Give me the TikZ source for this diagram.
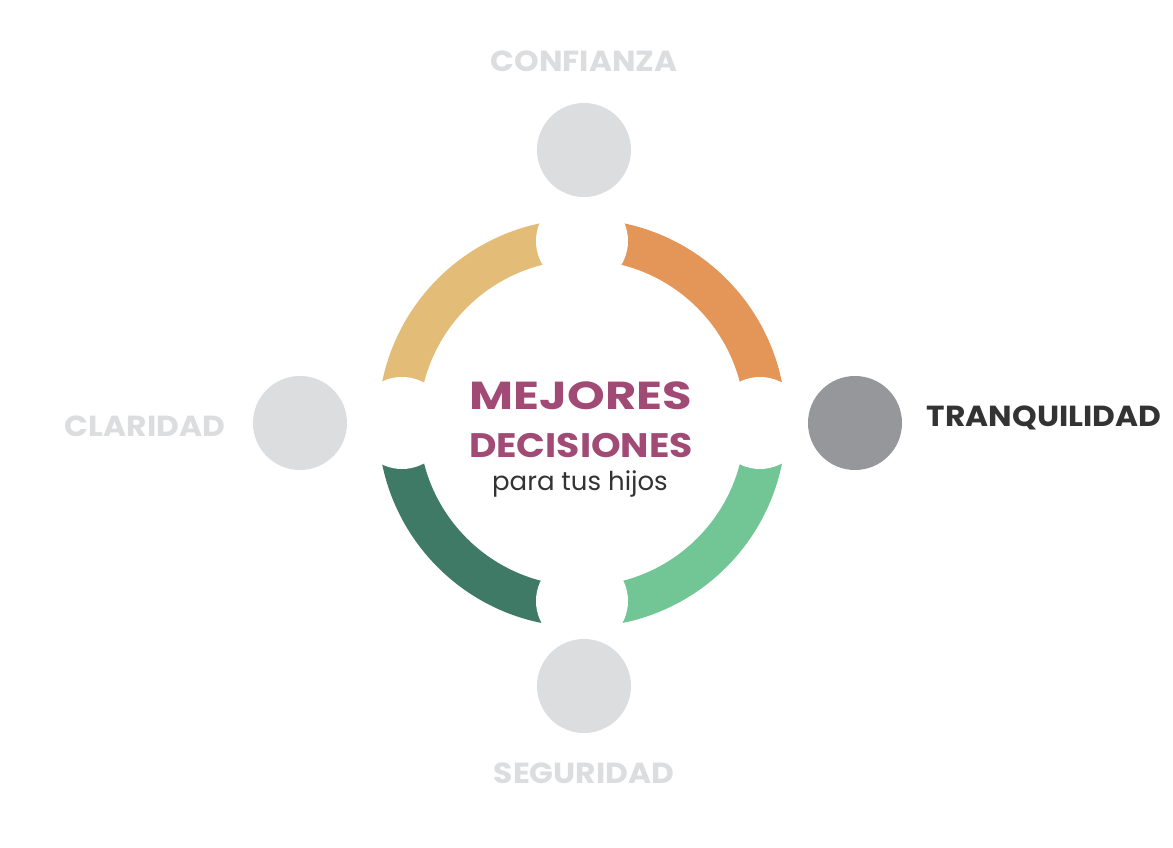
\documentclass[tikz,border=0pt]{standalone}
\usepackage{fontspec}
\setmainfont{Poppins}
\usepackage{tikz}
\usetikzlibrary{positioning}

\definecolor{ringyellow}{HTML}{E3BD78}
\definecolor{ringorange}{HTML}{E49658}
\definecolor{ringdark}{HTML}{3F7A66}
\definecolor{ringlight}{HTML}{72C594}
\definecolor{dotgray}{HTML}{DCDDDF}
\definecolor{dotactive}{HTML}{96979B}
\definecolor{textdark}{HTML}{333333}
\definecolor{titlepink}{HTML}{A24A76}

\tikzset{
    dot/.style={circle, fill=dotgray, minimum size=94pt, inner sep=0pt},
    dotlabel/.style={font=\fontsize{29}{32}\selectfont\bfseries, text=dotgray, anchor=base, inner sep=0pt, xscale=1.08},
    title/.style={anchor=base, inner sep=0pt, text=titlepink},
    notch/.style={fill=white}
}

\begin{document}
\begin{tikzpicture}[x=1pt,y=1pt]
    \useasboundingbox[fill=white] (-582,-425) rectangle (591,423);

    % ring quarters
    \fill[ringorange] (0:204) arc (0:90:204) -- (90:163) arc (90:0:163) -- cycle;
    \fill[ringyellow] (90:204) arc (90:180:204) -- (180:163) arc (180:90:163) -- cycle;
    \fill[ringdark] (180:204) arc (180:270:204) -- (270:163) arc (270:180:163) -- cycle;
    \fill[ringlight] (270:204) arc (270:360:204) -- (360:163) arc (360:270:163) -- cycle;

    % white gaps
    \fill[notch] (0,182) circle (46);
    \fill[notch] (-180,0) circle (46);
    \fill[notch] (178,0) circle (46);
    \fill[notch] (0,-178) circle (46);

    % circles
    \node[dot] (confianza) at (2,273) {};
    \node[dot] (seguridad) at (2,-263) {};
    \node[dot] (claridad) at (-282,0) {};
    \node[dot, fill=dotactive] (tranquilidad) at (273,0) {};

    % labels
    \node[dotlabel] (confianzatxt) at (2,351) {CONFIANZA};
    \node[dotlabel] (seguridadtxt) at (2,-360) {SEGURIDAD};
    \node[dotlabel] (claridadtxt) at (-437,-14) {CLARIDAD};
    \node[dotlabel, text=textdark] (tranquilidadtxt) at (462,-4) {TRANQUILIDAD};

    % centre title
    \node[title, xscale=1.23, font=\fontsize{39}{42}\selectfont\bfseries] (mejores) at (-1,13) {MEJORES};
    \node[title, xscale=1.11, font=\fontsize{34}{38}\selectfont\bfseries] (decisiones) at (-1,-35) {DECISIONES};
    \node[title, text=textdark, font=\fontsize{26}{30}\selectfont] (hijos) at (-2,-68) {para tus hijos};
\end{tikzpicture}
\end{document}
